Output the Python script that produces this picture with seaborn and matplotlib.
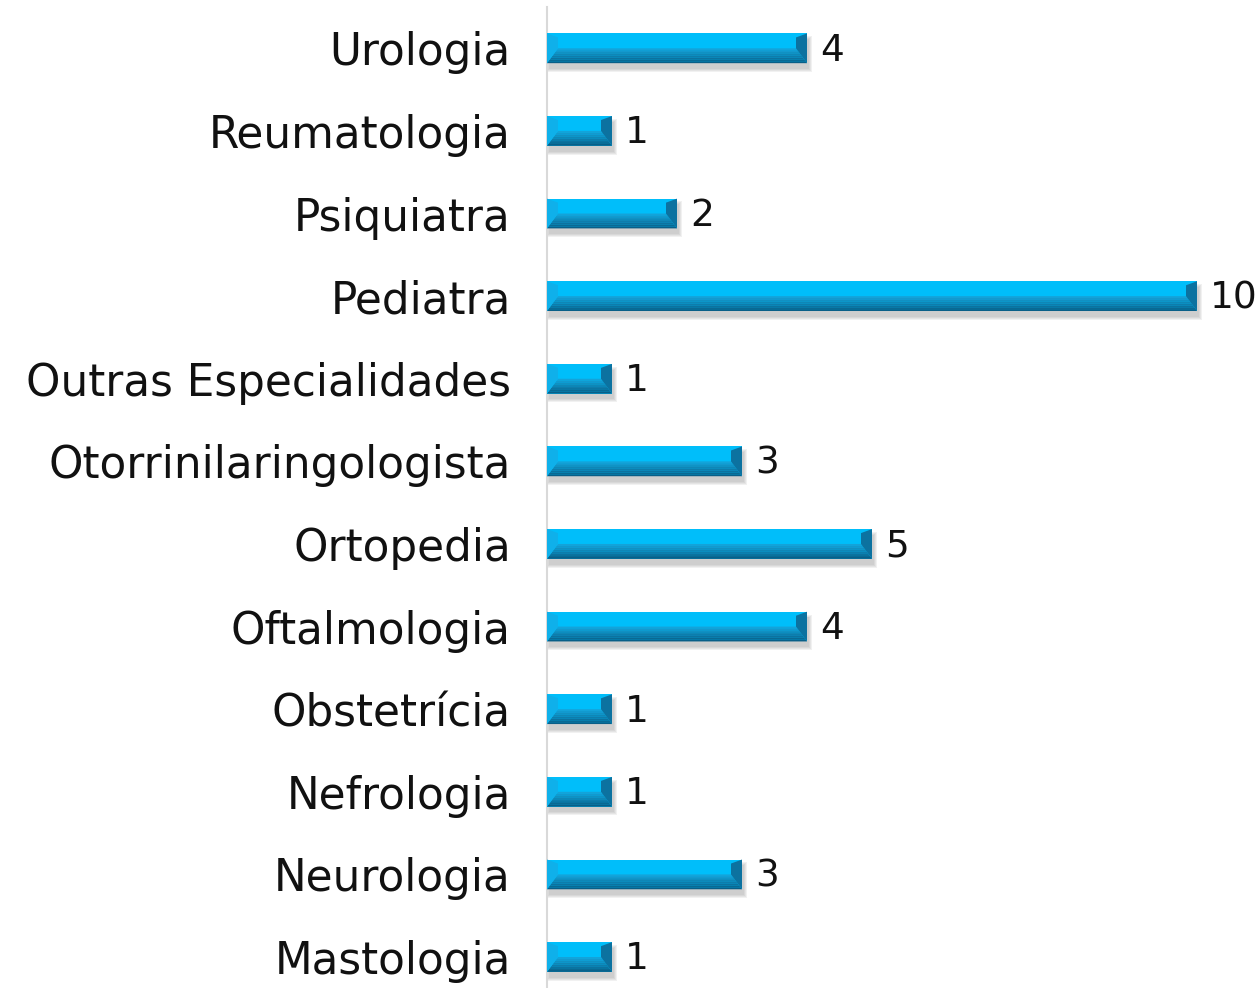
import matplotlib
matplotlib.use("Agg")
import matplotlib.pyplot as plt
import seaborn as sns
import pandas as pd
import numpy as np
from matplotlib.patches import Polygon, Rectangle
from matplotlib.colors import to_rgb

especialidades = ["Urologia", "Reumatologia", "Psiquiatra", "Pediatra",
                  "Outras Especialidades", "Otorrinilaringologista", "Ortopedia",
                  "Oftalmologia", "Obstetrícia", "Nefrologia", "Neurologia", "Mastologia"]
quantidades = [4, 1, 2, 10, 1, 3, 5, 4, 1, 1, 3, 1]

df = pd.DataFrame({"especialidade": especialidades, "qtd": quantidades})

sns.set_style("white")
plt.rcParams["font.family"] = ["DejaVu Sans"]

fig = plt.figure(figsize=(12.58, 9.88), dpi=100)
ax = fig.add_axes([547 / 1258, 0.0, 711 / 1258, 981 / 988])

sns.barplot(data=df, y="especialidade", x="qtd", orient="h", color="#00BEFA",
            width=0.36, saturation=1, linewidth=0, ax=ax, zorder=3)

ax.set_xlim(0, 711 / 65)
ax.set_ylim(11.375, -0.5)

bx = 11 / 65   # bevel width in data units
by = 4 / 82.6  # bevel height
c_top = np.array(to_rgb("#15A8DF"))
c_bot = np.array(to_rgb("#085A82"))
n = 8
for p in ax.patches[:len(quantidades)]:
    x0 = p.get_x()
    x1 = x0 + p.get_width()
    top = p.get_y()
    bot = top + p.get_height()
    if top > bot:
        top, bot = bot, top
    mid = top + (bot - top) * 0.5
    # soft shadow
    for k in range(4):
        ax.add_patch(Rectangle((x0 + 0.03 - k * 0.015, top + 0.07 - k * 0.012),
                               x1 - x0 + k * 0.03, bot - top + k * 0.024,
                               facecolor="#777777", alpha=0.10, edgecolor="none", zorder=2))
    # lower sloped band with gradient
    for j in range(n):
        t0, t1 = j / n, (j + 1) / n
        ya, yb = mid + (bot - mid) * t0, mid + (bot - mid) * t1
        xa, xb = bx * (1 - t0), bx * (1 - t1)
        col = c_top + (c_bot - c_top) * (t0 + t1) / 2
        ax.add_patch(Polygon([(x0 + xa, ya), (x1 - xa, ya), (x1 - xb, yb), (x0 + xb, yb)],
                             closed=True, facecolor=col, edgecolor="none", zorder=4))
    # right bevel
    ax.add_patch(Polygon([(x1 - bx, top + by), (x1, top), (x1, bot), (x1 - bx, mid)],
                         closed=True, facecolor="#0C72A0", edgecolor="none", zorder=4))
    # left bevel
    ax.add_patch(Polygon([(x0, top), (x0 + bx, top + by), (x0 + bx, mid), (x0, bot)],
                         closed=True, facecolor="#0FB0EA", edgecolor="none", zorder=4))

for i, v in enumerate(quantidades):
    ax.text(v + 0.2, i + 0.03, str(v), va="center", ha="left", fontsize=27,
            color="#111111", zorder=5)

ax.set_xlabel("")
ax.set_ylabel("")
ax.set_xticks([])
ax.tick_params(axis="y", length=0, pad=26, labelsize=31.5, labelcolor="#111111")
for side in ["top", "right", "bottom"]:
    ax.spines[side].set_visible(False)
ax.spines["left"].set_color("#D9D9D9")
ax.spines["left"].set_linewidth(1.5)
ax.set_facecolor("none")

fig.savefig("out.png", dpi=100)
